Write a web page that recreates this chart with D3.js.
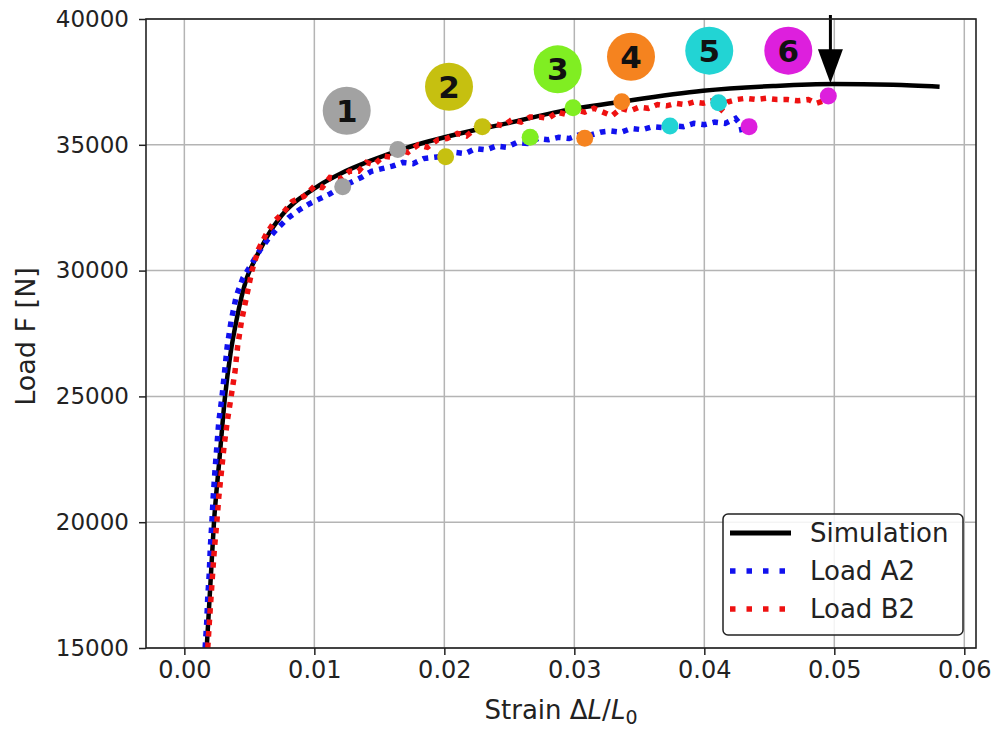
<!DOCTYPE html>
<html>
<head>
<meta charset="utf-8">
<script src="https://cdn.jsdelivr.net/npm/d3@7"></script>
<style>
  html, body { margin: 0; padding: 0; background: #fff; }
  svg { display: block; }
  text { font-family: "DejaVu Sans", sans-serif; fill: #222; }
</style>
</head>
<body>
<svg id="chart" width="994" height="729"></svg>
<script>
// ---------------- DATA ----------------
const xTicks = [0.00, 0.01, 0.02, 0.03, 0.04, 0.05, 0.06];
const yTicks = [15000, 20000, 25000, 30000, 35000, 40000];
const xLabelText = "Strain";
const yLabelText = "Load F [N]";
const seriesNames = ["Simulation", "Load A2", "Load B2"];

// Simulation (strain, load)
const simStrain = [0.00172, 0.00200, 0.00228, 0.00270, 0.00313, 0.00355, 0.00400, 0.00480, 0.00540, 0.00600, 0.00660, 0.00720, 0.00780, 0.00850, 0.00930, 0.01040, 0.01200, 0.01450, 0.01710, 0.02120, 0.02480, 0.02890, 0.03360, 0.03990, 0.04530, 0.04990, 0.05450, 0.05810];
const simLoad   = [15000, 17500, 20000, 22500, 25000, 26700, 28000, 29700, 30400, 31000, 31550, 32000, 32380, 32720, 33020, 33400, 33850, 34400, 34880, 35450, 35850, 36330, 36714, 37150, 37337, 37416, 37390, 37310];

// Load A2 (blue)
const a2Strain = [0.00160,0.00172,0.00180,0.00192,0.00200,0.00212,0.00222,0.00235,0.00250,0.00265,0.00290,0.00310,0.00330,0.00360,0.00400,0.00450,0.00510,0.00580,0.00650,0.00720,0.00800,0.00880,0.00960,0.01040,0.01120,0.01200,0.01280,0.01360,0.01440,0.01520,0.01600,0.01680,0.01760,0.01840,0.01920,0.02000,0.02080,0.02160,0.02240,0.02320,0.02400,0.02480,0.02560,0.02640,0.02720,0.02800,0.02880,0.02960,0.03040,0.03120,0.03200,0.03280,0.03360,0.03440,0.03520,0.03600,0.03680,0.03760,0.03840,0.03920,0.04000,0.04080,0.04160,0.04240,0.04280,0.04300];
const a2Load   = [15000,16000,17000,18000,19000,20000,21000,22000,23000,24000,25000,26000,27000,28000,29000,29700,30200,30800,31300,31700,32100,32400,32650,32850,33050,33300,33500,33700,33950,34050,34150,34300,34250,34450,34500,34550,34700,34650,34850,34800,34950,34900,35100,35050,35250,35200,35300,35250,35400,35380,35500,35550,35500,35650,35600,35720,35680,35760,35720,35850,35800,35900,35850,36050,35800,35300];

// Load B2 (red)
const b2Strain = [0.00180,0.00192,0.00205,0.00218,0.00232,0.00250,0.00265,0.00285,0.00305,0.00330,0.00360,0.00390,0.00410,0.00440,0.00480,0.00520,0.00570,0.00630,0.00700,0.00760,0.00830,0.00920,0.01000,0.01060,0.01120,0.01200,0.01270,0.01340,0.01400,0.01460,0.01530,0.01600,0.01660,0.01720,0.01800,0.01870,0.01950,0.02020,0.02100,0.02170,0.02240,0.02310,0.02380,0.02450,0.02520,0.02590,0.02660,0.02730,0.02800,0.02870,0.02940,0.03010,0.03080,0.03150,0.03220,0.03290,0.03360,0.03430,0.03500,0.03570,0.03640,0.03710,0.03780,0.03850,0.03920,0.03990,0.04060,0.04130,0.04180,0.04250,0.04320,0.04400,0.04480,0.04560,0.04640,0.04720,0.04800,0.04860,0.04920];
const b2Load   = [15000,16000,17000,18000,19000,20000,21000,22000,23000,24000,25000,26000,27000,28000,29000,30000,30850,31450,32000,32300,32750,32950,33350,33300,33700,33650,33950,33950,34300,34200,34550,34500,34800,34700,35000,34900,35200,35250,35450,35350,35650,35650,35850,35750,36000,35900,36100,36100,36050,36300,36200,36400,36300,36450,36300,36150,36450,36350,36500,36450,36600,36550,36650,36600,36700,36650,36750,36400,36700,36800,36850,36800,36850,36800,36800,36750,36800,36650,36750];

// Numbered stage labels
const stageNames  = ["1", "2", "3", "4", "5", "6"];
const stageColors = ["#a2a2a2", "#c6c010", "#80ee22", "#f5831f", "#22d4d4", "#dd1fdd"];
const stageLabelStrain = [0.01249, 0.02036, 0.02872, 0.03436, 0.04038, 0.04646];
const stageLabelLoad   = [36355, 37309, 38000, 38501, 38740, 38740];
// stage markers on the curves
const stageA2Strain = [0.01218, 0.02010, 0.02660, 0.03080, 0.03736, 0.04344];
const stageA2Load   = [33335, 34528, 35300, 35257, 35748, 35722];
const stageB2Strain = [0.01642, 0.02292, 0.02990, 0.03365, 0.04110, 0.04954];
const stageB2Load   = [34816, 35722, 36470, 36714, 36674, 36939];

// Arrow marking failure point
const arrowStrain = 0.0497;
const arrowLoadTop = 40160;
const arrowLoadTip = 37450;

// ---------------- CHART ----------------
const svg = d3.select("#chart");
const plot = { left: 146, right: 976, top: 19, bottom: 648 };

const x = d3.scaleLinear().domain([-0.00295, 0.0609]).range([plot.left, plot.right]);
const y = d3.scaleLinear().domain([15000, 40000]).range([plot.bottom, plot.top]);

// grid
const grid = svg.append("g");
grid.selectAll("line.gx").data(xTicks).join("line")
  .attr("x1", d => x(d)).attr("x2", d => x(d))
  .attr("y1", plot.top).attr("y2", plot.bottom)
  .attr("stroke", "#b4b4b4").attr("stroke-width", 1.5);
grid.selectAll("line.gy").data(yTicks).join("line")
  .attr("y1", d => y(d)).attr("y2", d => y(d))
  .attr("x1", plot.left).attr("x2", plot.right)
  .attr("stroke", "#b4b4b4").attr("stroke-width", 1.5);

// clip
svg.append("clipPath").attr("id", "clip").append("rect")
  .attr("x", plot.left).attr("y", plot.top)
  .attr("width", plot.right - plot.left).attr("height", plot.bottom - plot.top);

const lineSmooth = d3.line().x(d => x(d[0])).y(d => y(d[1])).curve(d3.curveMonotoneX);
const lineLinear = d3.line().x(d => x(d[0])).y(d => y(d[1]));
const curves = svg.append("g").attr("clip-path", "url(#clip)");

const simData = simStrain.map((s, i) => [s, simLoad[i]]);
const a2Data = a2Strain.map((s, i) => [s, a2Load[i]]);
const b2Data = b2Strain.map((s, i) => [s, b2Load[i]]);

curves.append("path").attr("d", lineSmooth(simData))
  .attr("fill", "none").attr("stroke", "#000").attr("stroke-width", 4.5);
curves.append("path").attr("d", lineLinear(a2Data))
  .attr("fill", "none").attr("stroke", "#1111ee").attr("stroke-width", 5.5)
  .attr("stroke-dasharray", "5.5 6");
curves.append("path").attr("d", lineLinear(b2Data))
  .attr("fill", "none").attr("stroke", "#ee1111").attr("stroke-width", 5.5)
  .attr("stroke-dasharray", "5.5 6");

// stage markers
const markers = svg.append("g");
stageNames.forEach((n, i) => {
  markers.append("circle").attr("cx", x(stageA2Strain[i])).attr("cy", y(stageA2Load[i]))
    .attr("r", 8.5).attr("fill", stageColors[i]);
  markers.append("circle").attr("cx", x(stageB2Strain[i])).attr("cy", y(stageB2Load[i]))
    .attr("r", 8.5).attr("fill", stageColors[i]);
  markers.append("circle").attr("cx", x(stageLabelStrain[i])).attr("cy", y(stageLabelLoad[i]))
    .attr("r", 24).attr("fill", stageColors[i]);
  markers.append("text").attr("x", x(stageLabelStrain[i])).attr("y", y(stageLabelLoad[i]))
    .attr("text-anchor", "middle").attr("dy", "0.36em")
    .style("font-size", "31px").style("font-weight", "bold").style("fill", "#111")
    .text(n);
});

// arrow
const ax = x(arrowStrain);
const tipY = y(arrowLoadTip);
const headLen = 34, headHalf = 12.5;
svg.append("line").attr("x1", ax).attr("x2", ax)
  .attr("y1", y(arrowLoadTop)).attr("y2", tipY - headLen + 2)
  .attr("stroke", "#000").attr("stroke-width", 3);
svg.append("path")
  .attr("d", `M${ax - headHalf},${tipY - headLen} L${ax + headHalf},${tipY - headLen} L${ax},${tipY} Z`)
  .attr("fill", "#000");

// frame
svg.append("rect").attr("x", plot.left).attr("y", plot.top)
  .attr("width", plot.right - plot.left).attr("height", plot.bottom - plot.top)
  .attr("fill", "none").attr("stroke", "#222").attr("stroke-width", 1.6);

// axes
const xAxis = svg.append("g").attr("transform", `translate(0,${plot.bottom})`)
  .call(d3.axisBottom(x).tickValues(xTicks).tickFormat(d3.format(".2f")).tickSize(7).tickPadding(6));
const yAxis = svg.append("g").attr("transform", `translate(${plot.left},0)`)
  .call(d3.axisLeft(y).tickValues(yTicks).tickFormat(d3.format("d")).tickSize(7).tickPadding(10));
[xAxis, yAxis].forEach(a => {
  a.select(".domain").remove();
  a.selectAll(".tick line").attr("stroke", "#222").attr("stroke-width", 1.5);
  a.selectAll(".tick text").style("font-family", "DejaVu Sans, sans-serif").attr("fill", "#222");
});
xAxis.selectAll(".tick text").style("font-size", "24px");
yAxis.selectAll(".tick text").style("font-size", "23px");

// x label with math
const xl = svg.append("text").attr("x", (plot.left + plot.right) / 2).attr("y", 719)
  .attr("text-anchor", "middle").style("font-size", "26px");
xl.append("tspan").text(xLabelText + " \u0394");
xl.append("tspan").style("font-style", "italic").text("L");
xl.append("tspan").text("/");
xl.append("tspan").style("font-style", "italic").text("L");
xl.append("tspan").attr("dy", "0.25em").style("font-size", "19px").text("0");

// y label
svg.append("text")
  .attr("transform", `translate(35,${(plot.top + plot.bottom) / 2 + 3}) rotate(-90)`)
  .attr("text-anchor", "middle").style("font-size", "27px")
  .text(yLabelText);

// legend
const lg = svg.append("g");
lg.append("rect").attr("x", 723).attr("y", 514).attr("width", 240).attr("height", 121)
  .attr("rx", 5).attr("fill", "#fff").attr("fill-opacity", 0.85)
  .attr("stroke", "#222").attr("stroke-width", 1.5);
const legStyles = [
  { color: "#000", dash: null, width: 5 },
  { color: "#1111ee", dash: "5.5 11", width: 5.5 },
  { color: "#ee1111", dash: "5.5 11", width: 5.5 }
];
seriesNames.forEach((name, i) => {
  const yy = 533 + i * 38;
  const l = lg.append("line").attr("x1", 730).attr("x2", 791).attr("y1", yy).attr("y2", yy)
    .attr("stroke", legStyles[i].color).attr("stroke-width", legStyles[i].width);
  if (legStyles[i].dash) l.attr("stroke-dasharray", legStyles[i].dash);
  lg.append("text").attr("x", 810).attr("y", yy).attr("dy", "0.36em")
    .style("font-size", "26px").text(name);
});
</script>
</body>
</html>
